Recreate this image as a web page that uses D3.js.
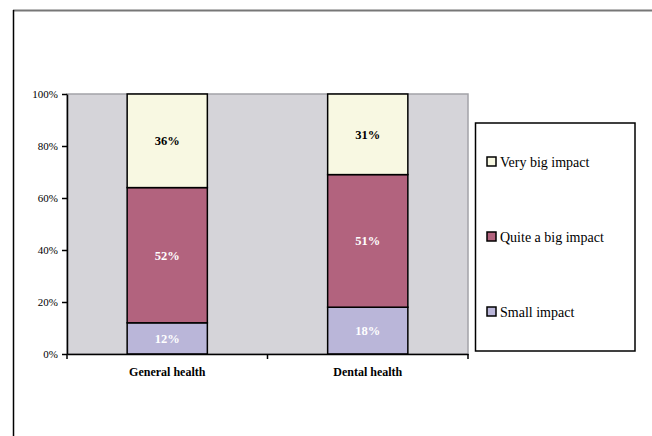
<!DOCTYPE html>
<html>
<head>
<meta charset="utf-8">
<script src="https://cdn.jsdelivr.net/npm/d3@7"></script>
<style>
  body { margin: 0; background: #fff; }
  svg { display: block; }
  svg text { font-family: 'Liberation Serif', 'Times New Roman', serif; }
</style>
</head>
<body>
<svg id="chart"></svg>
<script>
const categories = ['General health', 'Dental health']
const seriesNames = ['Small impact', 'Quite a big impact', 'Very big impact']
const smallImpact = [12, 18]
const quiteBigImpact = [52, 51]
const veryBigImpact = [36, 31]
const yTicks = [0, 20, 40, 60, 80, 100]

document.addEventListener('DOMContentLoaded', function () {
  const width = 652
  const height = 436

  const colours = {
    plot: '#d5d4d9',
    plotEdge: '#a3a3a8',
    small: '#bab6d9',
    quite: '#b2637e',
    very: '#f8f8e2',
    frame: '#777777'
  }
  const fills = [colours.small, colours.quite, colours.very]
  const labelColours = ['#ffffff', '#ffffff', '#000000']

  const plot = { left: 67, right: 468, top: 94, bottom: 354 }

  const svg = d3.select('#chart')
    .attr('width', width)
    .attr('height', height)

  // outer frame
  svg.append('line')
    .attr('x1', 13).attr('x2', width).attr('y1', 10.5).attr('y2', 10.5)
    .attr('stroke', colours.frame).attr('stroke-width', 2)
  svg.append('line')
    .attr('x1', 13.5).attr('x2', 13.5).attr('y1', 10).attr('y2', height)
    .attr('stroke', '#000').attr('stroke-width', 1.5)

  const x = d3.scaleBand()
    .domain(categories)
    .range([plot.left, plot.right])
    .paddingInner(0.6)
    .paddingOuter(0.3)

  const y = d3.scaleLinear()
    .domain([0, 100])
    .range([plot.bottom, plot.top])

  // plot area
  svg.append('rect')
    .attr('x', plot.left).attr('y', plot.top)
    .attr('width', plot.right - plot.left).attr('height', plot.bottom - plot.top)
    .attr('fill', colours.plot)
    .attr('stroke', colours.plotEdge)
    .attr('stroke-width', 1.5)

  const rows = categories.map((c, i) => ({
    category: c,
    s0: smallImpact[i],
    s1: quiteBigImpact[i],
    s2: veryBigImpact[i]
  }))
  const stacked = d3.stack().keys(['s0', 's1', 's2'])(rows)

  const layers = svg.append('g')
    .selectAll('g')
    .data(stacked)
    .enter()
    .append('g')

  layers.selectAll('rect')
    .data((d, i) => d.map(p => ({ p, i })))
    .enter()
    .append('rect')
    .attr('x', d => x(d.p.data.category))
    .attr('width', x.bandwidth())
    .attr('y', d => y(d.p[1]))
    .attr('height', d => y(d.p[0]) - y(d.p[1]))
    .attr('fill', d => fills[d.i])
    .attr('stroke', '#000')
    .attr('stroke-width', 1.5)

  layers.selectAll('text')
    .data((d, i) => d.map(p => ({ p, i })))
    .enter()
    .append('text')
    .attr('x', d => x(d.p.data.category) + x.bandwidth() / 2)
    .attr('y', d => (y(d.p[0]) + y(d.p[1])) / 2)
    .attr('dy', '0.35em')
    .attr('text-anchor', 'middle')
    .attr('font-size', 12.5)
    .attr('font-weight', 'bold')
    .attr('fill', d => labelColours[d.i])
    .text(d => (d.p[1] - d.p[0]) + '%')

  // y axis
  const yAxis = svg.append('g')
    .attr('transform', `translate(${plot.left},0)`)
    .call(d3.axisLeft(y).tickValues(yTicks).tickFormat(d => d + '%').tickSize(5).tickSizeOuter(0))
  yAxis.select('.domain').attr('stroke', '#000').attr('stroke-width', 1.5)
  yAxis.selectAll('.tick line').attr('stroke', '#000').attr('stroke-width', 1.5)
  yAxis.selectAll('.tick text')
    .attr('font-size', 11)
    .attr('fill', '#000')
    .attr('x', -9)

  // x axis
  const xAxis = svg.append('g')
    .attr('transform', `translate(0,${plot.bottom})`)
    .call(d3.axisBottom(x).tickSize(0).tickSizeOuter(0))
  xAxis.select('.domain').attr('stroke', '#000').attr('stroke-width', 1.5)
  xAxis.selectAll('.tick text')
    .attr('font-size', 12)
    .attr('font-weight', 'bold')
    .attr('fill', '#000')
    .attr('dy', 0)
    .attr('y', 22)
  // category separator ticks
  const sep = (x(categories[0]) + x.bandwidth() + x(categories[1])) / 2
  ;[plot.left, sep, plot.right].forEach(v => {
    xAxis.append('line')
      .attr('x1', v).attr('x2', v).attr('y1', 0).attr('y2', 5)
      .attr('stroke', '#000').attr('stroke-width', 1.5)
  })

  // legend
  const legend = svg.append('g')
  legend.append('rect')
    .attr('x', 475.5).attr('y', 123)
    .attr('width', 159.5).attr('height', 228)
    .attr('fill', '#fff')
    .attr('stroke', '#000')
    .attr('stroke-width', 1.5)

  const legendItems = seriesNames.map((n, i) => ({ name: n, fill: fills[i] })).reverse()
  const ly = d3.scalePoint().domain(legendItems.map(d => d.name)).range([162, 312])

  const item = legend.selectAll('g.item')
    .data(legendItems)
    .enter()
    .append('g')
    .attr('class', 'item')
    .attr('transform', d => `translate(487,${ly(d.name)})`)
  item.append('rect')
    .attr('x', 0).attr('y', -5)
    .attr('width', 9).attr('height', 9)
    .attr('fill', d => d.fill)
    .attr('stroke', '#000')
    .attr('stroke-width', 1.5)
  item.append('text')
    .attr('x', 13)
    .attr('y', 0)
    .attr('dy', '0.35em')
    .attr('font-size', 14)
    .attr('fill', '#000')
    .text(d => d.name)
}, false)
</script>
</body>
</html>
